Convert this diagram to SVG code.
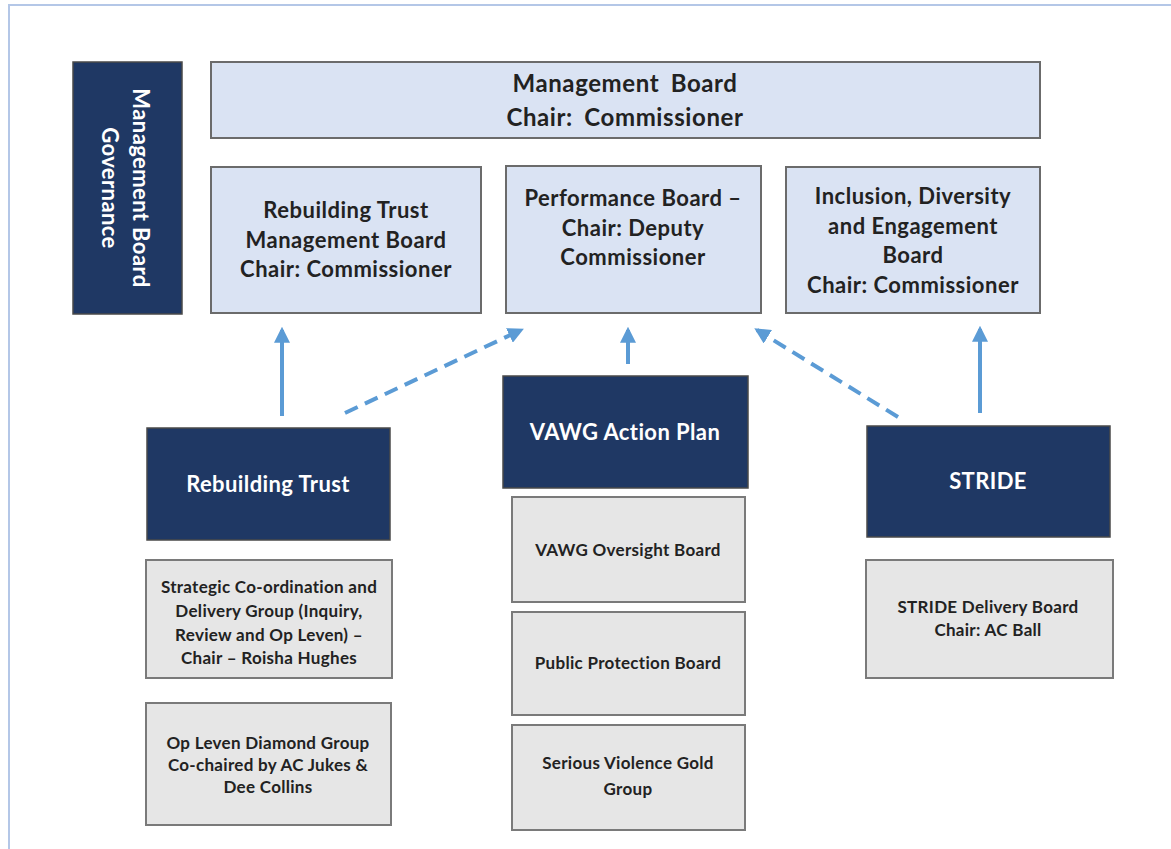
<svg xmlns="http://www.w3.org/2000/svg" width="1171" height="849" viewBox="0 0 1171 849">
  <style>
    .frame { fill: none; stroke: #b4c7e7; stroke-width: 2; }
    .board { fill: #dae3f3; stroke: #6b6b6b; stroke-width: 2; }
    .dark { fill: #1f3864; stroke: #4a4a4a; stroke-width: 1.5; }
    .group { fill: #e6e6e6; stroke: #7a7a7a; stroke-width: 2; }
    text { font-family: Lato, "Open Sans", "DejaVu Sans", sans-serif; font-weight: bold; text-anchor: middle; }
    .t-board { font-size: 22px; letter-spacing: 0.5px; fill: #222222; }
    .t-top { font-size: 24px; letter-spacing: 0.6px; word-spacing: 5px; fill: #222222; }
    .t-dark { font-size: 22px; letter-spacing: 0.4px; fill: #ffffff; }
    .t-group { font-size: 17px; letter-spacing: 0.3px; fill: #222222; }
    .link { stroke: #5b9bd5; stroke-width: 4; fill: none; }
    .dashed { stroke-dasharray: 14 8; }
  </style>
  <defs>
    <marker id="head" viewBox="0 0 10 10" refX="8" refY="5" markerWidth="4" markerHeight="4" orient="auto" markerUnits="strokeWidth">
      <path d="M0,0 L10,5 L0,10 z" fill="#5b9bd5"/>
    </marker>
  </defs>

  <rect width="1171" height="849" fill="#ffffff"/>
  <path class="frame" d="M9,849 V5 H1171"/>

  <g id="governance">
    <rect class="dark" x="73" y="62" width="109" height="252"/>
    <text class="t-dark" transform="translate(140,188) rotate(90)" y="7">Management Board</text>
    <text class="t-dark" transform="translate(109,188) rotate(90)" y="7">Governance</text>
  </g>

  <g id="management-board">
    <rect class="board" x="211" y="62" width="829" height="76"/>
    <text class="t-top" x="625" y="92">Management Board</text>
    <text class="t-top" x="625" y="126">Chair: Commissioner</text>
  </g>

  <g id="rebuilding-trust-board">
    <rect class="board" x="211" y="167" width="270" height="146"/>
    <text class="t-board" x="346" y="218">Rebuilding Trust</text>
    <text class="t-board" x="346" y="248">Management Board</text>
    <text class="t-board" x="346" y="277">Chair: Commissioner</text>
  </g>

  <g id="performance-board">
    <rect class="board" x="506" y="166" width="255" height="147"/>
    <text class="t-board" x="633" y="206">Performance Board –</text>
    <text class="t-board" x="633" y="236">Chair: Deputy</text>
    <text class="t-board" x="633" y="265">Commissioner</text>
  </g>

  <g id="inclusion-board">
    <rect class="board" x="786" y="167" width="254" height="146"/>
    <text class="t-board" x="913" y="204">Inclusion, Diversity</text>
    <text class="t-board" x="913" y="234">and Engagement</text>
    <text class="t-board" x="913" y="263">Board</text>
    <text class="t-board" x="913" y="293">Chair: Commissioner</text>
  </g>

  <g id="rebuilding-trust">
    <rect class="dark" x="147" y="428" width="243" height="112"/>
    <text class="t-dark" x="268" y="492">Rebuilding Trust</text>
  </g>

  <g id="vawg-action-plan">
    <rect class="dark" x="503" y="376" width="245" height="112"/>
    <text class="t-dark" x="625" y="440">VAWG Action Plan</text>
  </g>

  <g id="stride">
    <rect class="dark" x="867" y="426" width="243" height="111"/>
    <text class="t-dark" x="988" y="489">STRIDE</text>
  </g>

  <g id="strategic-group">
    <rect class="group" x="146" y="560" width="246" height="118"/>
    <text class="t-group" x="269" y="593">Strategic Co-ordination and</text>
    <text class="t-group" x="269" y="617">Delivery Group (Inquiry,</text>
    <text class="t-group" x="269" y="641">Review and Op Leven) –</text>
    <text class="t-group" x="269" y="664">Chair – Roisha Hughes</text>
  </g>

  <g id="op-leven-group">
    <rect class="group" x="146" y="703" width="245" height="122"/>
    <text class="t-group" x="268" y="749">Op Leven Diamond Group</text>
    <text class="t-group" x="268" y="771">Co-chaired by AC Jukes &amp;</text>
    <text class="t-group" x="268" y="793">Dee Collins</text>
  </g>

  <g id="vawg-oversight">
    <rect class="group" x="512" y="497" width="233" height="105"/>
    <text class="t-group" x="628" y="556">VAWG Oversight Board</text>
  </g>

  <g id="public-protection">
    <rect class="group" x="512" y="612" width="233" height="103"/>
    <text class="t-group" x="628" y="669">Public Protection Board</text>
  </g>

  <g id="serious-violence">
    <rect class="group" x="512" y="725" width="233" height="105"/>
    <text class="t-group" x="628" y="769">Serious Violence Gold</text>
    <text class="t-group" x="628" y="795">Group</text>
  </g>

  <g id="stride-delivery">
    <rect class="group" x="866" y="560" width="247" height="118"/>
    <text class="t-group" x="988" y="613">STRIDE Delivery Board</text>
    <text class="t-group" x="988" y="636">Chair: AC Ball</text>
  </g>

  <g id="connectors">
    <line class="link" x1="282" y1="416" x2="282" y2="330" marker-end="url(#head)"/>
    <line class="link dashed" x1="345" y1="413" x2="521" y2="330" marker-end="url(#head)"/>
    <line class="link" x1="628" y1="364" x2="628" y2="330" marker-end="url(#head)"/>
    <line class="link dashed" x1="898" y1="417" x2="757" y2="330" marker-end="url(#head)"/>
    <line class="link" x1="980" y1="413" x2="980" y2="329" marker-end="url(#head)"/>
  </g>
</svg>
